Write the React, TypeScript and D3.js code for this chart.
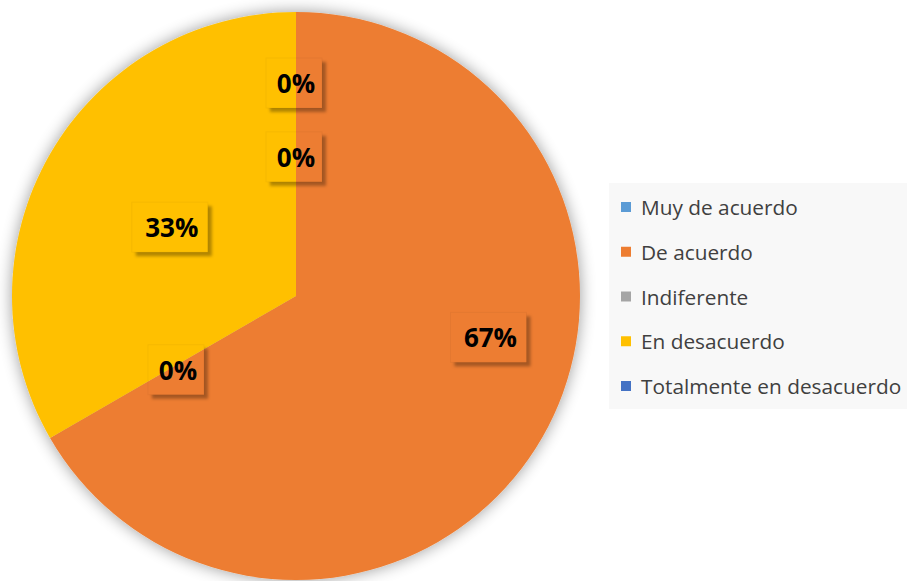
import React from "react";
import * as d3 from "d3";

const categories = [
  "Muy de acuerdo",
  "De acuerdo",
  "Indiferente",
  "En desacuerdo",
  "Totalmente en desacuerdo",
];
const values = [0, 2, 0, 1, 0];
const percentLabels = ["0%", "67%", "0%", "33%", "0%"];
const colors = ["#5B9BD5", "#ED7D31", "#A5A5A5", "#FFC000", "#4472C4"];

// where Excel's best-fit put each label: fraction of radius, angle shift (deg)
const labelPlacement = [
  { r: 0.75, shift: 0 },
  { r: 0.7, shift: -18 },
  { r: 0.49, shift: -2 },
  { r: 0.5, shift: -1 },
  { r: 0.49, shift: 0 },
];

const W = 907;
const H = 581;
const cx = 296;
const cy = 296;
const radius = 284;

const font = "'Open Sans', sans-serif";

export default function App() {
  const pie = d3
    .pie<number>()
    .sort(null)
    .value((d) => d)
    .startAngle(0)
    .endAngle(2 * Math.PI);
  const arcs = pie(values);
  const arc = d3.arc<d3.PieArcDatum<number>>().innerRadius(0).outerRadius(radius);

  const labelW = [56, 76, 56, 76, 56];
  const labelH = 50;

  const legendY = d3
    .scalePoint<string>()
    .domain(categories)
    .range([207, 386]);

  return (
    <div style={{ position: "absolute", left: 0, top: 0 }}>
      <svg width={W} height={H} style={{ display: "block" }}>
        <defs>
          <filter id="pieShadow" x="-20%" y="-20%" width="140%" height="140%">
            <feGaussianBlur in="SourceAlpha" stdDeviation="8" />
            <feComponentTransfer>
              <feFuncA type="linear" slope="0.4" />
            </feComponentTransfer>
            <feMerge>
              <feMergeNode />
              <feMergeNode in="SourceGraphic" />
            </feMerge>
          </filter>
          <filter id="boxShadow" x="-30%" y="-30%" width="160%" height="160%">
            <feGaussianBlur stdDeviation="1.5" />
          </filter>
        </defs>
        <rect width={W} height={H} fill="#ffffff" />
        <g transform={`translate(${cx},${cy})`}>
          <g filter="url(#pieShadow)">
            {arcs.map((a, i) =>
              a.endAngle > a.startAngle ? (
                <path key={i} d={arc(a) || ""} fill={colors[i]} />
              ) : null
            )}
          </g>
          {arcs.map((a, i) => {
            const p = labelPlacement[i];
            const ang = (a.startAngle + a.endAngle) / 2 + (p.shift * Math.PI) / 180;
            const rr = radius * p.r;
            const x = Math.sin(ang) * rr;
            const y = -Math.cos(ang) * rr;
            const w = labelW[i];
            const bx = x - w / 2 - 2;
            const by = y - labelH / 2;
            const off = 4;
            return (
              <g key={"l" + i}>
                <mask id={"m" + i} maskUnits="userSpaceOnUse" x={bx - 20} y={by - 20} width={w + 40} height={labelH + 40}>
                  <rect x={bx - 20} y={by - 20} width={w + 40} height={labelH + 40} fill="#fff" />
                  <rect x={bx} y={by} width={w} height={labelH} fill="#000" />
                </mask>
                <g mask={`url(#m${i})`}>
                  <rect
                    x={bx + off}
                    y={by + off}
                    width={w}
                    height={labelH}
                    fill="rgba(0,0,0,0.3)"
                    filter="url(#boxShadow)"
                  />
                </g>
                <rect
                  x={bx}
                  y={by}
                  width={w}
                  height={labelH}
                  fill="none"
                  stroke="rgba(0,0,0,0.04)"
                />
                <text
                  x={x}
                  y={y}
                  textAnchor="middle"
                  dominantBaseline="central"
                  fontFamily={font}
                  fontWeight="bold"
                  fontSize={26}
                  fill="#000000"
                >
                  {percentLabels[i]}
                </text>
              </g>
            );
          })}
        </g>
        <rect x={609} y={183} width={298} height={226} fill="#f8f8f8" />
        {categories.map((c, i) => {
          const y = legendY(c) as number;
          return (
            <g key={"lg" + i}>
              <rect x={621} y={y - 5} width={10} height={10} fill={colors[i]} />
              <text
                x={641}
                y={y}
                dominantBaseline="central"
                fontFamily={font}
                fontSize={20.8}
                fill="#404040"
              >
                {c}
              </text>
            </g>
          );
        })}
      </svg>
    </div>
  );
}
